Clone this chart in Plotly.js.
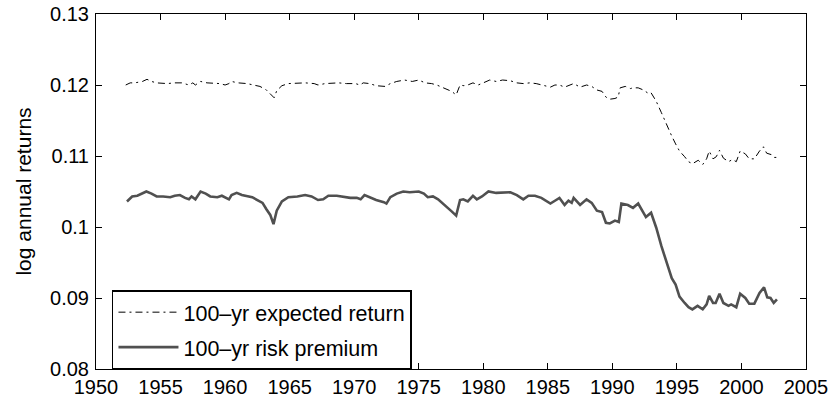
<!DOCTYPE html>
<html>
<head>
<meta charset="utf-8">
<script src="https://cdn.plot.ly/plotly-3.0.1.min.js"></script>
<style>html,body{margin:0;padding:0;background:#fff;}#chart{width:831px;height:401px;}</style>
</head>
<body>
<div id="chart"></div>
<script>
// 100-yr expected return (dash-dot line)
var expYears = [1952.3,1952.65,1953.0,1953.6,1953.95,1954.3,1954.7,1955.5,1956.1,1956.65,1957.2,1957.5,1957.7,1958.1,1958.6,1959.1,1959.6,1960.0,1960.3,1960.5,1961.0,1961.7,1962.2,1962.7,1963.2,1963.5,1963.8,1964.0,1964.4,1964.9,1965.6,1966.2,1966.9,1967.2,1967.75,1968.4,1968.8,1969.4,1970.1,1970.45,1970.7,1971.2,1971.7,1972.4,1972.8,1973.3,1973.9,1974.5,1975.0,1975.5,1976.0,1976.4,1976.8,1977.2,1977.55,1977.9,1978.2,1978.5,1978.8,1979.2,1979.6,1980.0,1980.5,1981.0,1981.5,1982.1,1982.6,1983.1,1983.6,1984.1,1984.6,1985.2,1985.55,1985.9,1986.3,1986.7,1987.0,1987.5,1988.0,1988.4,1988.8,1989.2,1989.5,1989.8,1990.2,1990.45,1990.6,1991.0,1991.4,1991.6,1992.0,1992.4,1992.8,1993.0,1993.4,1993.8,1994.2,1994.6,1994.9,1995.2,1995.6,1995.9,1996.2,1996.65,1997.0,1997.3,1997.5,1997.8,1998.05,1998.3,1998.6,1999.0,1999.3,1999.6,1999.9,2000.3,2000.6,2001.0,2001.4,2001.7,2001.95,2002.3,2002.5,2002.75];
var expValues = [0.1200,0.1203,0.1203,0.1205,0.1208,0.1205,0.1203,0.1202,0.1203,0.1203,0.1200,0.1203,0.1200,0.1205,0.1203,0.1202,0.1202,0.1200,0.1202,0.1205,0.1203,0.1202,0.1200,0.1198,0.1193,0.1188,0.1182,0.1192,0.1199,0.1202,0.1203,0.1203,0.1202,0.1200,0.1202,0.1203,0.1203,0.1202,0.1202,0.1200,0.1203,0.1202,0.1199,0.1198,0.1202,0.1205,0.1207,0.1205,0.1207,0.1203,0.1202,0.1200,0.1197,0.1194,0.1191,0.1186,0.1200,0.1199,0.1200,0.1203,0.1200,0.1203,0.1207,0.1205,0.1207,0.1206,0.1203,0.1202,0.1203,0.1202,0.1200,0.1197,0.1200,0.1200,0.1197,0.1200,0.1202,0.1197,0.1200,0.1198,0.1193,0.1191,0.1183,0.1180,0.1181,0.1183,0.1196,0.1198,0.1195,0.1196,0.1196,0.1193,0.1188,0.1189,0.1177,0.1161,0.1144,0.1128,0.1117,0.1107,0.1099,0.1092,0.1089,0.1094,0.1088,0.1096,0.1107,0.1096,0.1099,0.1108,0.1097,0.1092,0.1095,0.1092,0.1107,0.1103,0.1096,0.1096,0.1107,0.1113,0.1104,0.1102,0.1098,0.1098];

// 100-yr risk premium (solid grey line)
var rpYears = [1952.4,1952.8,1953.2,1953.6,1953.9,1954.3,1954.7,1955.2,1955.75,1956.1,1956.5,1956.9,1957.2,1957.4,1957.7,1958.1,1958.5,1958.85,1959.4,1959.75,1960.0,1960.3,1960.5,1960.9,1961.3,1961.7,1962.1,1962.5,1962.9,1963.2,1963.5,1963.75,1964.0,1964.4,1964.9,1965.6,1966.2,1966.7,1967.2,1967.6,1968.0,1968.65,1969.2,1969.7,1970.2,1970.5,1970.8,1971.2,1971.7,1972.3,1972.5,1972.8,1973.3,1973.8,1974.3,1975.0,1975.4,1975.7,1976.1,1976.5,1976.9,1977.3,1977.55,1977.9,1978.2,1978.45,1978.8,1979.2,1979.5,1979.9,1980.4,1981.0,1981.5,1982.1,1982.6,1983.1,1983.5,1984.0,1984.5,1984.9,1985.2,1985.55,1985.9,1986.3,1986.6,1986.85,1987.0,1987.5,1988.0,1988.4,1988.8,1989.2,1989.5,1989.8,1990.2,1990.5,1990.7,1991.2,1991.6,1992.0,1992.3,1992.6,1993.0,1993.4,1993.8,1994.2,1994.6,1994.9,1995.2,1995.6,1995.9,1996.2,1996.6,1997.0,1997.3,1997.5,1997.8,1998.0,1998.3,1998.6,1999.0,1999.2,1999.6,1999.9,2000.3,2000.6,2001.0,2001.4,2001.75,2002.0,2002.25,2002.5,2002.75];
var rpValues = [0.1036,0.1043,0.1044,0.1047,0.1050,0.1047,0.1043,0.1043,0.1042,0.1044,0.1045,0.1041,0.1039,0.1043,0.1039,0.1050,0.1047,0.1043,0.1042,0.1044,0.1042,0.1039,0.1045,0.1048,0.1045,0.1043,0.1042,0.1038,0.1034,0.1025,0.1017,0.1004,0.1023,0.1036,0.1042,0.1043,0.1045,0.1043,0.1038,0.1039,0.1044,0.1044,0.1042,0.1041,0.1041,0.1039,0.1045,0.1042,0.1038,0.1035,0.1033,0.1042,0.1047,0.1050,0.1049,0.1050,0.1047,0.1042,0.1043,0.1039,0.1033,0.1027,0.1022,0.1016,0.1038,0.1039,0.1036,0.1044,0.1039,0.1043,0.1050,0.1048,0.1048,0.1049,0.1045,0.1039,0.1044,0.1044,0.1041,0.1036,0.1033,0.1037,0.1041,0.1031,0.1037,0.1034,0.1041,0.1031,0.1039,0.1034,0.1023,0.1021,0.1006,0.1005,0.1009,0.1007,0.1033,0.1031,0.1027,0.1033,0.1024,0.1014,0.1020,0.0999,0.0973,0.0949,0.0928,0.0919,0.0902,0.0893,0.0887,0.0884,0.0889,0.0884,0.0891,0.0903,0.0893,0.0893,0.0906,0.0893,0.0889,0.0891,0.0887,0.0906,0.0900,0.0892,0.0892,0.0907,0.0915,0.0901,0.0900,0.0893,0.0898];

var seriesNames = ['100\u2013yr expected return', '100\u2013yr risk premium'];
var xTickVals = [1950,1955,1960,1965,1970,1975,1980,1985,1990,1995,2000,2005];
var xTickText = ['1950','1955','1960','1965','1970','1975','1980','1985','1990','1995','2000','2005'];
var yTickVals = [0.08,0.09,0.10,0.11,0.12,0.13];
var yTickText = ['0.08','0.09','0.1','0.11','0.12','0.13'];
var yTitle = 'log annual returns';

var FONT = 'Liberation Sans, Arial, Helvetica, sans-serif';

var traces = [
  {x: expYears, y: expValues, type: 'scatter', mode: 'lines', name: seriesNames[0],
   legendgroup: 'a', line: {color: '#000000', width: 1, dash: '7px,4px,2px,4px'}},
  {x: rpYears, y: rpValues, type: 'scatter', mode: 'lines', name: seriesNames[1],
   legendgroup: 'b', line: {color: '#505050', width: 2.6}}
];

var axisCommon = {
  showline: true, linecolor: '#000', linewidth: 1, mirror: 'ticks',
  ticks: 'inside', ticklen: 6, tickcolor: '#000', tickwidth: 1,
  showgrid: false, zeroline: false,
  tickfont: {family: FONT, size: 20, color: '#000'}
};

var layout = {
  width: 831, height: 401,
  margin: {l: 96, r: 25, t: 14, b: 32},
  paper_bgcolor: '#fff', plot_bgcolor: '#fff',
  showlegend: true,
  xaxis: Object.assign({}, axisCommon, {
    range: [1950, 2005], tickmode: 'array', tickvals: xTickVals, ticktext: xTickText
  }),
  yaxis: Object.assign({}, axisCommon, {
    range: [0.08, 0.13], tickmode: 'array', tickvals: yTickVals, ticktext: yTickText,
    ticklabelstandoff: 2,
    title: {text: yTitle, font: {family: FONT, size: 21, color: '#000'}, standoff: 12}
  }),
  legend: {
    x: 0.0225, y: 0.222, xanchor: 'left', yanchor: 'top',
    bgcolor: '#fff', bordercolor: '#000', borderwidth: 1.5,
    font: {family: FONT, size: 21.5, color: '#000'},
    traceorder: 'grouped', tracegroupgap: 4, itemwidth: 60
  },
  font: {family: FONT, color: '#000'}
};

Plotly.newPlot('chart', traces, layout, {displayModeBar: false, staticPlot: true});
</script>
</body>
</html>
